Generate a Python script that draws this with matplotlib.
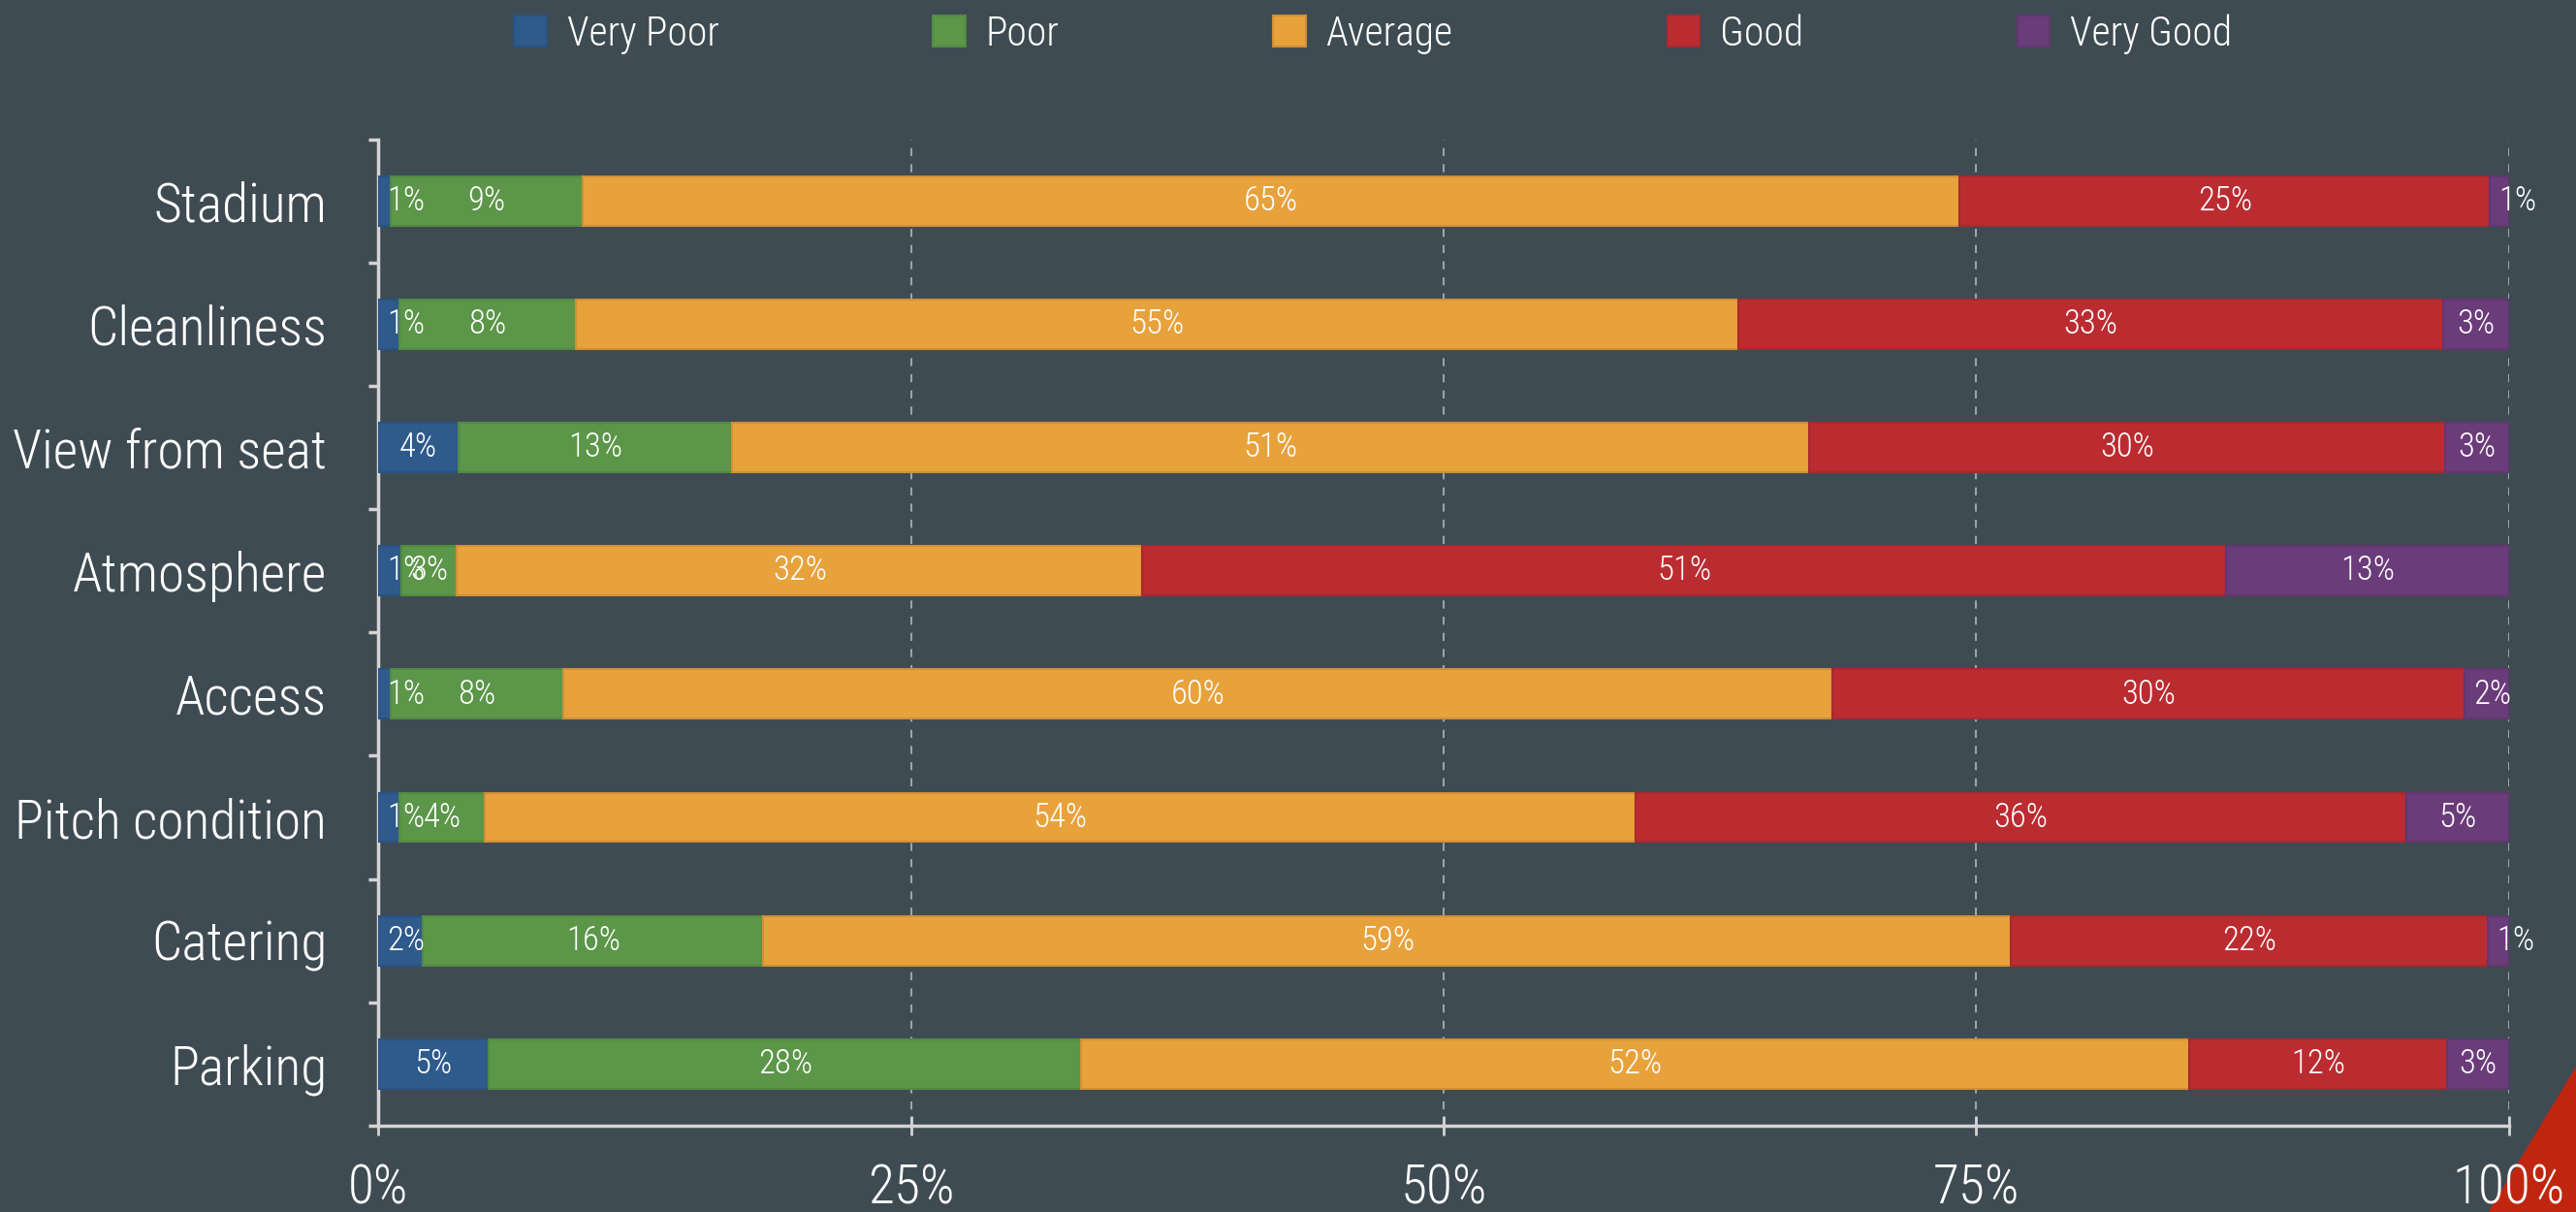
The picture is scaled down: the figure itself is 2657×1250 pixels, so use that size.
import numpy as np
import matplotlib
matplotlib.use("Agg")
import matplotlib.pyplot as plt
from matplotlib import font_manager
from matplotlib.patches import Patch, Polygon

# ----------------------------------------
# Data (percent of respondents)
# ----------------------------------------
categories = ["Stadium", "Cleanliness", "View from seat", "Atmosphere",
              "Access", "Pitch condition", "Catering", "Parking"]
series_names = ["Very Poor", "Poor", "Average", "Good", "Very Good"]

very_poor = [0.6, 1.0, 3.8, 1.1, 0.6, 1.0, 2.1, 5.2]
poor = [9.0, 8.3, 12.8, 2.6, 8.1, 4.0, 16.0, 27.8]
average = [64.7, 54.6, 50.6, 32.2, 59.6, 54.0, 58.6, 52.0]
good = [24.9, 33.1, 29.9, 50.9, 29.7, 36.2, 22.4, 12.1]
very_good = [0.9, 3.1, 3.0, 13.3, 2.1, 4.8, 1.0, 2.9]

x_ticks = [0, 25, 50, 75, 100]

# ----------------------------------------
# Style
# ----------------------------------------
BG = "#3f4b52"
colors = ["#2e5a8c", "#5b9649", "#e8a23c", "#bb2c31", "#6b3c7a"]
edges = ["#2a5282", "#538a43", "#cf9038", "#a9292e", "#623770"]

available = {f.name for f in font_manager.fontManager.ttflist}
family = next((f for f in ["Roboto Condensed", "Liberation Sans Narrow", "Lato", "DejaVu Sans"]
               if f in available), "DejaVu Sans")
plt.rcParams["font.family"] = [family, "DejaVu Sans"]
plt.rcParams["font.weight"] = "light"

fig = plt.figure(figsize=(26.57, 12.5), dpi=100, facecolor=BG)
ax = fig.add_axes([0.1468, 0.0712, 0.8272, 0.8140], facecolor=BG)

data = np.array([very_poor, poor, average, good, very_good])
shares = data / data.sum(axis=0) * 100
y = np.arange(len(categories))

ax.set_xlim(0, 100)
ax.set_ylim(len(categories) - 0.5, -0.5)

renderer = fig.canvas.get_renderer()
pad_px = 9

left = np.zeros(len(categories))
for i, name in enumerate(series_names):
    ax.barh(y, shares[i], left=left, height=0.4, color=colors[i],
            edgecolor=edges[i], linewidth=1.5, label=name, zorder=3)
    for j in range(len(categories)):
        lo, hi = left[j], left[j] + shares[i][j]
        txt = ax.text((lo + hi) / 2, y[j], f"{round(data[i][j])}%", ha="center",
                      va="center", color="white", fontsize=25, zorder=4)
        tw = txt.get_window_extent(renderer).width
        lo_px = ax.transData.transform((lo, 0))[0]
        hi_px = ax.transData.transform((hi, 0))[0]
        if tw + 2 * pad_px > hi_px - lo_px:
            # too narrow: start the label just inside the segment
            txt.set_x(ax.transData.inverted().transform((lo_px + pad_px, 0))[0])
            txt.set_ha("left")
    left += shares[i]

ax.set_xticks(x_ticks)
ax.set_xticklabels([f"{t}%" for t in x_ticks])
ax.set_yticks(y)
ax.set_yticklabels(categories)
ax.set_yticks(np.arange(len(categories) + 1) - 0.5, minor=True)

ax.tick_params(axis="x", colors="#d4d4d4", labelcolor="white", labelsize=40,
               direction="inout", length=14, width=2, pad=21)
ax.tick_params(axis="y", which="major", length=0, labelcolor="white", labelsize=40, pad=38)
ax.tick_params(axis="y", which="minor", colors="#d4d4d4", direction="out", length=7, width=2.5)

for side in ["top", "right"]:
    ax.spines[side].set_visible(False)
for side in ["left", "bottom"]:
    ax.spines[side].set_color("#d4d4d4")
    ax.spines[side].set_linewidth(2.5)

ax.grid(axis="x", color="#9aa3a8", linestyle=(0, (4, 4)), linewidth=1.5, zorder=0)
ax.set_axisbelow(True)

handles = [Patch(facecolor=c, edgecolor=e, linewidth=1.5) for c, e in zip(colors, edges)]
fig.legend(handles, series_names, loc="center", bbox_to_anchor=(0.533, 0.972),
           ncol=5, frameon=False, fontsize=30, labelcolor="white",
           handlelength=0.8, handleheight=0.8, handletextpad=0.5, columnspacing=5.3)

# decorative red corner, behind the tick labels
fig.patches.append(Polygon([[0.966, 0.0], [1.0, 0.12], [1.0, 0.0]], closed=True,
                           transform=fig.transFigure, facecolor="#c0260f",
                           edgecolor="none", zorder=-1))

fig.savefig("out.png", dpi=100, facecolor=BG)
